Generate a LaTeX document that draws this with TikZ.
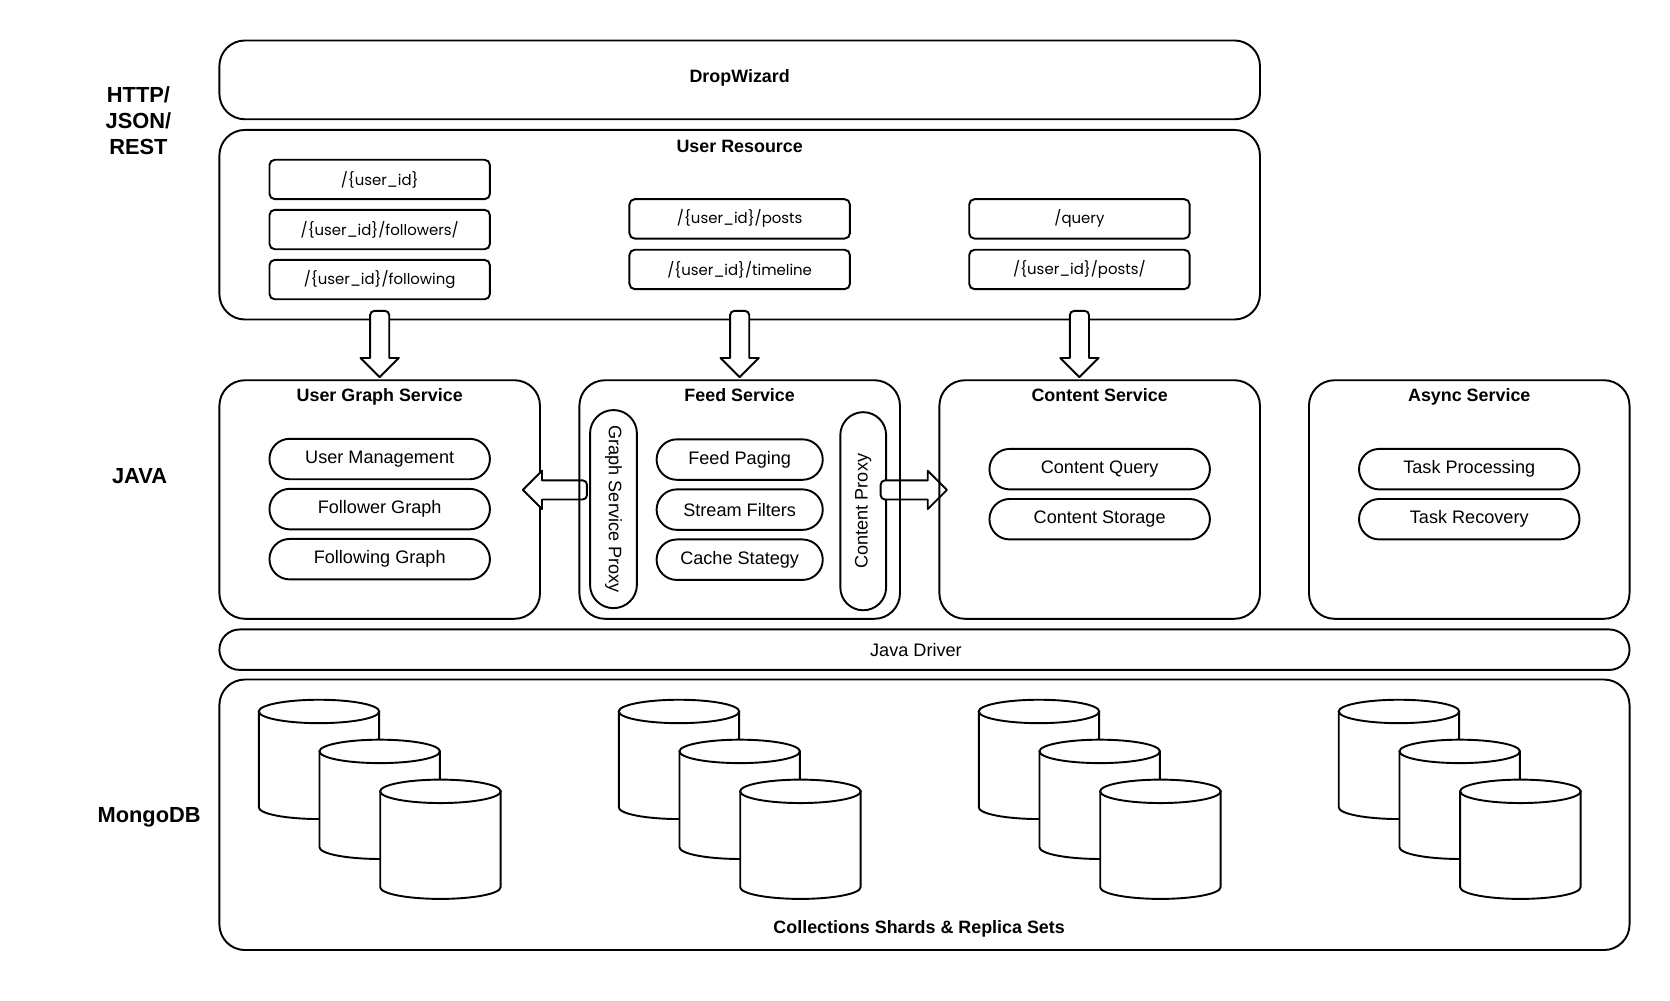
\documentclass[tikz,border=0pt]{standalone}
\usepackage{fontspec}
\setmainfont{Liberation Sans}
\newfontfamily\geofont{Poppins}
\usetikzlibrary{calc,shapes.misc}
\pgfdeclarelayer{bg}
\pgfdeclarelayer{mid}
\pgfsetlayers{bg,mid,main}
\tikzset{
  box/.style={draw, line width=1.8pt, rounded corners=24pt, inner sep=0pt},
  ep/.style={draw, line width=1.8pt, rounded corners=5pt, minimum width=207pt, minimum height=37pt, inner sep=0pt, font=\geofont\fontsize{14}{16}\selectfont},
  pill/.style={draw, line width=1.8pt, rounded rectangle, minimum height=38pt, inner sep=0pt, font=\fontsize{17}{20}\selectfont},
  ttl/.style={font=\bfseries\fontsize{16.8}{20}\selectfont, inner sep=0pt, anchor=base},
  layerlbl/.style={font=\bfseries\fontsize{20.5}{24.5}\selectfont, align=center, inner sep=0pt},
  blk/.style={draw, line width=1.8pt, fill=white, line join=round},
  cyl/.style={draw, line width=1.8pt, fill=white},
}
\newcommand\downblock[2]{\draw[blk] let \p1=(#1), \p2=(#2) in (\x1+9pt,\y2+18pt) -- (\x1+9pt,\y1-4pt) arc[start angle=0,end angle=90,radius=4pt] -- (\x1-5pt,\y1) arc[start angle=90,end angle=180,radius=4pt] -- (\x1-9pt,\y2+18pt) -- (\x1-18pt,\y2+18pt) -- (\x1,\y2) -- (\x1+18pt,\y2+18pt) -- cycle;}
\newcommand\leftblock[2]{\draw[blk] let \p1=(#1), \p2=(#2) in (\x2+18pt,\y1+9pt) -- (\x1-4pt,\y1+9pt) arc[start angle=90,end angle=0,radius=4pt] -- (\x1,\y1-5pt) arc[start angle=0,end angle=-90,radius=4pt] -- (\x2+18pt,\y1-9pt) -- (\x2+18pt,\y1-18pt) -- (\x2,\y1) -- (\x2+18pt,\y1+18pt) -- cycle;}
\newcommand\rightblock[2]{\draw[blk] let \p1=(#1), \p2=(#2) in (\x2-18pt,\y1+9pt) -- (\x1+4pt,\y1+9pt) arc[start angle=90,end angle=180,radius=4pt] -- (\x1,\y1-5pt) arc[start angle=180,end angle=270,radius=4pt] -- (\x2-18pt,\y1-9pt) -- (\x2-18pt,\y1-18pt) -- (\x2,\y1) -- (\x2-18pt,\y1+18pt) -- cycle;}
\newcommand\dbcyl[2]{%
  \path[cyl] (#1-56.5,#2) -- (#1-56.5,#2+90) arc[start angle=180,end angle=360,x radius=56.5pt,y radius=11pt] -- (#1+56.5,#2) -- cycle;
  \path[cyl] (#1,#2) ellipse[x radius=56.5pt,y radius=11pt];}
\begin{document}
\begin{tikzpicture}[x=1pt,y=-1pt,line width=1.8pt]
\useasboundingbox (0,0) rectangle (1568,939);
% layer labels
\node[layerlbl] (lhttp) at (130,113) {HTTP/\\JSON/\\REST};
\node[layerlbl] (ljava) at (131,447) {JAVA};
\node[layerlbl] (lmongo) at (140,767) {MongoDB};
% DropWizard
\node[box, minimum width=977pt, minimum height=74pt] (dw) at (694.5,75) {};
\node[ttl] (dwt) at ($(dw.north)+(0,40)$) {DropWizard};
% User Resource
\begin{pgfonlayer}{bg}
\node[box, minimum width=977pt, minimum height=178pt] (ur) at (694.5,211) {};
\end{pgfonlayer}
\node[ttl] (urt) at ($(ur.north)+(0,22)$) {User Resource};
\node[ep] (ep1) at (356.5,168.5) {/\{user\_id\}};
\node[ep] (ep2) at (356.5,215.5) {/\{user\_id\}/followers/};
\node[ep] (ep3) at (356.5,262.5) {/\{user\_id\}/following};
\node[ep] (ep4) at (694.5,205.5) {/\{user\_id\}/posts};
\node[ep] (ep5) at (694.5,253) {/\{user\_id\}/timeline};
\node[ep] (ep6) at (1013.5,205.5) {/query};
\node[ep] (ep7) at (1013.5,253) {/\{user\_id\}/posts/};
% services
\begin{pgfonlayer}{bg}
\node[box, minimum width=301pt, minimum height=224pt] (ugs) at (356.5,469) {};
\end{pgfonlayer}
\node[box, minimum width=301pt, minimum height=224pt] (feed) at (694.5,469) {};
\node[box, minimum width=301pt, minimum height=224pt] (cs) at (1032.5,469) {};
\node[box, minimum width=301pt, minimum height=224pt] (as) at (1379.5,469) {};
\node[ttl] (ugst) at ($(ugs.north)+(0,21)$) {User Graph Service};
\node[ttl] (feedt) at ($(feed.north)+(0,21)$) {Feed Service};
\node[ttl] (cst) at ($(cs.north)+(0,21)$) {Content Service};
\node[ttl] (ast) at ($(as.north)+(0,21)$) {Async Service};
% items
\node[pill, minimum width=207pt] (um) at (356.5,431) {User Management};
\node[pill, minimum width=207pt] (fg) at (356.5,478) {Follower Graph};
\node[pill, minimum width=207pt] (fwg) at (356.5,525) {Following Graph};
\node[pill, minimum width=156pt] (fp) at (694.5,431.5) {Feed Paging};
\node[pill, minimum width=156pt] (sf) at (694.5,478.5) {Stream Filters};
\node[pill, minimum width=156pt] (cst2) at (694.5,525.5) {Cache Stategy};
\node[pill, rotate=-90, minimum width=186pt, minimum height=44pt] (gsp) at (576,478) {Graph Service Proxy};
\begin{pgfonlayer}{bg}
\node[pill, rotate=90, minimum width=186pt, minimum height=43pt] (cp) at (810.5,480) {Content Proxy};
\end{pgfonlayer}
\node[pill, minimum width=207pt] (cq) at (1032.5,440.5) {Content Query};
\node[pill, minimum width=207pt] (cstor) at (1032.5,487.5) {Content Storage};
\node[pill, minimum width=207pt] (tp) at (1379.5,440.5) {Task Processing};
\node[pill, minimum width=207pt] (tr) at (1379.5,487.5) {Task Recovery};
% Java driver
\node[pill, minimum width=1324pt] (jd) at (868,610) {\hspace*{-16pt}Java Driver};
% MongoDB
\node[box, minimum width=1324pt, minimum height=254pt] (mongo) at (868,765) {};
\node[ttl] (mongot) at ($(mongo.south)+(-5,-16)$) {Collections Shards \& Replica Sets};
\foreach \g in {0,338,676,1014} {
  \dbcyl{299.5+\g}{668}
  \dbcyl{356.5+\g}{705.5}
  \dbcyl{413.5+\g}{743}
}
% block arrows
\begin{pgfonlayer}{mid}
\downblock{$(ep3.south |- ur.south)+(0,-9)$}{$(ep3.south |- ugs.north)+(0,-2)$}
\downblock{$(ep5.south |- ur.south)+(0,-9)$}{$(ep5.south |- feed.north)+(0,-2)$}
\downblock{$(ep7.south |- ur.south)+(0,-9)$}{$(ep7.south |- cs.north)+(0,-2)$}
\leftblock{$(gsp.south)+(-2,-18)$}{$(ugs.east)+(-17,0)$}
\rightblock{$(cp.south)+(-6,-20)$}{$(cs.west)+(8,0)$}
\end{pgfonlayer}
\end{tikzpicture}
\end{document}
